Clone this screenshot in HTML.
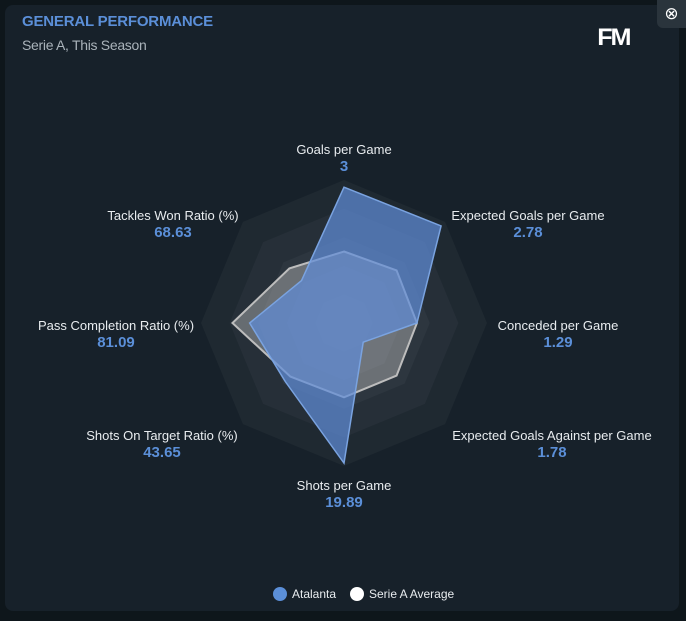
<!DOCTYPE html>
<html><head><meta charset="utf-8"><style>
body{margin:0;width:686px;height:621px;background:#0e161b;font-family:"Liberation Sans",sans-serif;overflow:hidden;position:relative}
.card{position:absolute;left:5px;top:5px;width:674px;height:606px;background:#17212a;border-radius:8px}
.t{position:absolute;left:22px;top:13px;color:#5b8fd8;font-weight:bold;font-size:15px;letter-spacing:-0.2px}
.s{position:absolute;left:22px;top:37px;color:#aab3ba;font-size:14px;letter-spacing:-0.3px}
.fm{position:absolute;left:598px;top:24px;color:#fff;font-weight:bold;font-size:24px;letter-spacing:-2px;transform:scaleX(1.05)}
.close{position:absolute;left:657px;top:0;width:29px;height:28px;background:#2a343c;border-radius:0 0 0 6px;color:#fff;font-size:17px;text-align:center;line-height:28px}
.lb{position:absolute;color:#e8ecef;font-size:13px;text-align:center;width:220px;margin-left:-110px}
.lb b{display:block;color:#5b8fd8;font-size:15px;margin-top:1px}
.leg{position:absolute;top:587px;font-size:12px;color:#e8ecef}
.dot{display:inline-block;width:14px;height:14px;border-radius:50%;vertical-align:-3px;margin-right:5px}
</style></head><body>
<div class="card"></div>
<div class="t">GENERAL PERFORMANCE</div>
<div class="s">Serie A, This Season</div>
<div class="fm">FM</div>
<div class="close">⊗</div>
<svg id="radar" width="686" height="621" style="position:absolute;left:0;top:0"></svg>
<div id="labels"></div>
<div class="leg" style="left:273px"><span class="dot" style="background:#5b8fd8"></span>Atalanta</div>
<div class="leg" style="left:350px"><span class="dot" style="background:#fff"></span>Serie A Average</div>
<script>
const categories=["Goals per Game","Expected Goals per Game","Conceded per Game","Expected Goals Against per Game","Shots per Game","Shots On Target Ratio (%)","Pass Completion Ratio (%)","Tackles Won Ratio (%)"];
const printedValues=["3","2.78","1.29","1.78","19.89","43.65","81.09","68.63"];
const teamValues=[0.95,0.96,0.51,0.19,0.98,0.58,0.66,0.42];
const avgValues=[0.50,0.52,0.51,0.52,0.52,0.53,0.78,0.54];
const cx=344,cy=323,R=143,rings=5;
const svg=document.getElementById('radar'),NS='http://www.w3.org/2000/svg';
function pt(i,f){const a=-Math.PI/2+i*Math.PI/4;return [cx+R*f*Math.cos(a),cy+R*f*Math.sin(a)];}
function poly(vals){return vals.map((v,i)=>pt(i,v).join(',')).join(' ');}
const ringFill=['#1f2931','#262f38','#2d363f','#343d46','#3b444d'];
for(let r=0;r<rings;r++){
 const p=document.createElementNS(NS,'polygon');
 p.setAttribute('points',poly(categories.map(()=>1-r/rings)));
 p.setAttribute('fill',ringFill[r]);
 
 
 svg.appendChild(p);
}
const av=document.createElementNS(NS,'polygon');
av.setAttribute('points',poly(avgValues));
av.setAttribute('fill','rgba(200,200,200,0.4)');av.setAttribute('stroke','#bdbdbd');av.setAttribute('stroke-width','2');


svg.appendChild(av);
const tm=document.createElementNS(NS,'polygon');
tm.setAttribute('points',poly(teamValues));
tm.setAttribute('fill','rgba(95,140,215,0.72)');tm.setAttribute('stroke','#7aa3e0');tm.setAttribute('stroke-width','1.5');


svg.appendChild(tm);
const pos=[[344,142],[528,208],[558,318],[552,428],[344,478],[162,428],[116,318],[173,208]];
const L=document.getElementById('labels');
categories.forEach((c,i)=>{
 const d=document.createElement('div');d.className='lb';
 d.style.left=pos[i][0]+'px';d.style.top=pos[i][1]+'px';
 d.innerHTML=c+'<b>'+printedValues[i]+'</b>';
 
 
 L.appendChild(d);
});
</script>
</body></html>
